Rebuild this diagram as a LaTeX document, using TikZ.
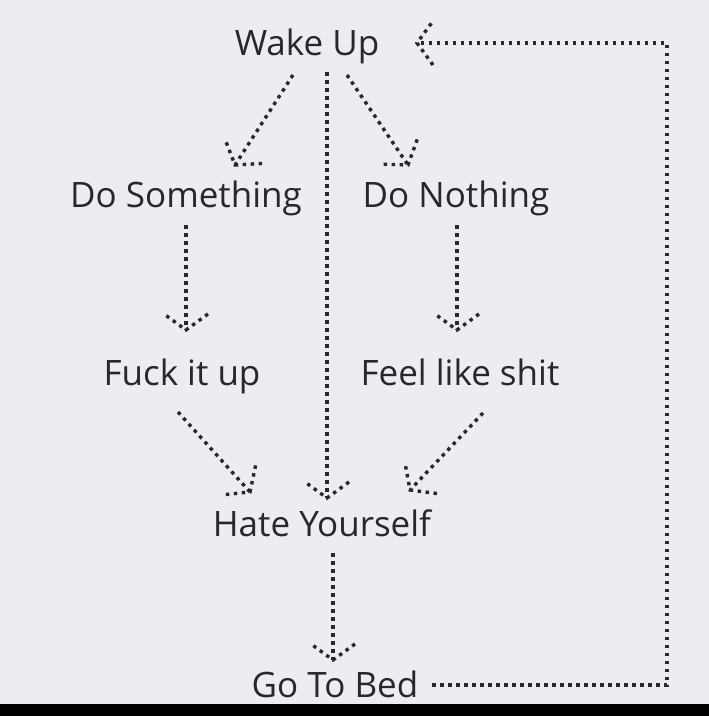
\documentclass[tikz,border=0pt]{standalone}
\usepackage{fontspec}
\setmainfont{Open Sans}
\usepackage{xcolor}
\definecolor{paper}{RGB}{237,237,241}
\definecolor{ink}{RGB}{40,40,42}
\usepackage{tikz}
\usetikzlibrary{calc, decorations.markings}
\tikzstyle{phrase} = [
    inner sep=0pt,
    anchor=base,
    text=ink,
    font=\fontsize{35}{42}\selectfont,
]
\tikzstyle{dotline} = [
    draw=ink,
    line width=3.4pt,
    dash pattern=on 3.5pt off 4.5pt,
]
\tikzstyle{arrow} = [
    dotline,
    postaction={decorate, decoration={markings,
        mark=at position 1 with {\draw [dotline] (-16,22) -- (0,0) -- (-16,-22);}}},
]

\begin{document}
\begin{tikzpicture}[x=1pt, y=1pt]
    % background
    \fill [paper] (0,0) rectangle (709,-716);
    \fill [black] (0,-704) rectangle (709,-716);

    % phrases
    \node (wake) at (307,-55) [phrase] {Wake Up};
    \node (dosome) at (186,-207) [phrase] {Do Something};
    \node (donoth) at (456,-207) [phrase] {Do Nothing};
    \node (fuck) at (182,-385) [phrase] {Fuck it up};
    \node (feel) at (460,-385) [phrase] {Feel like shit};
    \node (hate) at (322,-536) [phrase] {Hate Yourself};
    \node (bed) at (335,-697) [phrase] {Go To Bed};
    \coordinate (loop) at (667,-400);

    % arrows
    \draw [arrow] ([shift={(-14,-20)}]wake.base) -- ([shift={(49,42)}]dosome.base);
    \draw [arrow] ([shift={(40,-20)}]wake.base) -- ([shift={(-48,42)}]donoth.base);
    \draw [arrow] ([shift={(20,-17)}]wake.base) -- ([shift={(5,38)}]hate.base);
    \draw [arrow] ([shift={(0,-18)}]dosome.base) -- ([shift={(4,55)}]fuck.base);
    \draw [arrow] ([shift={(1,-18)}]donoth.base) -- ([shift={(-3,55)}]feel.base);
    \draw [arrow] ([shift={(-4,-27)}]fuck.base) -- ([shift={(-72,44)}]hate.base);
    \draw [arrow] ([shift={(23,-28)}]feel.base) -- ([shift={(88,46)}]hate.base);
    \draw [arrow] ([shift={(11,-17)}]hate.base) -- ([shift={(-2,37)}]bed.base);
    \draw [arrow] ([shift={(97,12)}]bed.base) -| (loop) |- ([shift={(110,12)}]wake.base);
\end{tikzpicture}
\end{document}
